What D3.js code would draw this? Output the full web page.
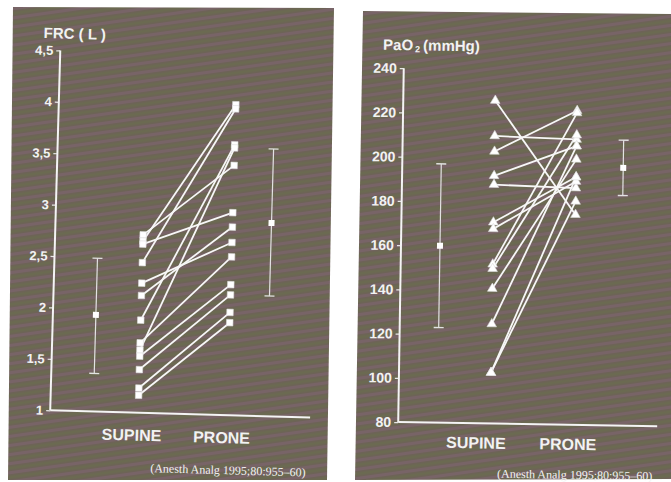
<!DOCTYPE html>
<html>
<head>
<meta charset="utf-8">
<script src="https://cdn.jsdelivr.net/npm/d3@7"></script>
<style>
  body { margin:0; background:#fff; }
  svg { display:block; }
  text { font-family:"Liberation Sans", Arial, sans-serif; fill:#f2f2f2; }
</style>
</head>
<body>
<div id="chart"></div>
<script>
// categories
var groups = ["SUPINE", "PRONE"];

// FRC (L), one line per patient
var frcSupine = [2.73, 2.67, 2.64, 2.46, 2.26, 2.14, 1.90, 1.68, 1.61, 1.55, 1.42, 1.24, 1.17];
var frcProne  = [3.43, 4.02, 2.97, 3.98, 2.68, 2.83, 3.63, 2.54, 3.60, 2.27, 2.17, 2.00, 1.90];
var frcMean = [1.94, 2.88];
var frcLow  = [1.37, 2.17];
var frcHigh = [2.49, 3.60];
var frcTicks = [1, 1.5, 2, 2.5, 3, 3.5, 4, 4.5];

// PaO2 (mmHg), one line per patient
var paoSupine = [226, 210, 203, 192, 188, 171, 168, 152, 150, 141, 125, 103, 103];
var paoProne  = [175, 209, 222, 206, 187, 192, 190, 221, 211, 200, 206, 181, 192];
var paoMean = [160, 196.5];
var paoLow  = [123, 184];
var paoHigh = [197, 209];
var paoTicks = [80, 100, 120, 140, 160, 180, 200, 220, 240];

var source = "(Anesth Analg 1995;80:955\u201360)";

var svg = d3.select("#chart").append("svg")
	.attr("width", 671).attr("height", 482);

// moire-ish print background
var defs = svg.append("defs");
var pat = defs.append("pattern")
	.attr("id", "print")
	.attr("patternUnits", "userSpaceOnUse")
	.attr("width", 40).attr("height", 9)
	.attr("patternTransform", "rotate(-8)");
pat.append("rect").attr("width", 40).attr("height", 9).attr("fill", "#6d6357");
pat.append("rect").attr("y", 0).attr("width", 40).attr("height", 3).attr("fill", "#7a646c").attr("opacity", 0.8);
pat.append("rect").attr("y", 4.5).attr("width", 40).attr("height", 3).attr("fill", "#6a6b50").attr("opacity", 0.8);

svg.append("path")
	.attr("d", "M13,7 L334,8 L327,480 L8,480 Z")
	.attr("fill", "url(#print)");
svg.append("path")
	.attr("d", "M363,11 L671,14 L671,479 L355,480 Z")
	.attr("fill", "url(#print)");

function panel(opt){
	var g = svg.append("g")
		.attr("transform", "rotate(" + opt.angle + "," + opt.cx + "," + opt.cy + ")");

	var y = d3.scaleLinear().domain(opt.domain).range([opt.bottom, opt.top]);
	var x = d3.scalePoint().domain(groups).range(opt.xRange);

	// axes
	var ax = g.append("g")
		.attr("transform", "translate(" + opt.left + ",0)")
		.call(d3.axisLeft(y)
			.tickValues(opt.ticks)
			.tickSize(4)
			.tickPadding(3)
			.tickFormat(opt.fmt));
	ax.select(".domain").remove();
	ax.selectAll(".tick line").attr("stroke", "#e6e6e6").attr("stroke-width", 1.2);
	ax.selectAll(".tick text")
		.attr("fill", "#efefef")
		.attr("font-size", opt.tickSize)
		.attr("font-weight", "bold");

	g.append("line")
		.attr("x1", opt.left).attr("x2", opt.left)
		.attr("y1", y(opt.domain[0])).attr("y2", y(opt.domain[1]))
		.attr("stroke", "#f4f4f4").attr("stroke-width", 2);
	g.append("line")
		.attr("x1", opt.left).attr("x2", opt.right)
		.attr("y1", y(opt.domain[0])).attr("y2", y(opt.domain[0]))
		.attr("stroke", "#f4f4f4").attr("stroke-width", 2);

	// title
	opt.title(g.append("text")
		.attr("x", opt.titleX).attr("y", opt.titleY)
		.attr("font-size", 15).attr("font-weight", "bold"));

	// category labels
	g.selectAll(".cat")
		.data(groups)
		.enter().append("text")
		.attr("class", "cat")
		.attr("x", function(d, i){ return x(d) + opt.labelDx[i]; })
		.attr("y", opt.labelY)
		.attr("text-anchor", "middle")
		.attr("font-size", 16).attr("font-weight", "bold")
		.text(function(d){ return d; });

	// patient lines
	var pairs = opt.supine.map(function(v, i){ return [v, opt.prone[i]]; });
	g.selectAll(".pair")
		.data(pairs)
		.enter().append("line")
		.attr("x1", x("SUPINE")).attr("x2", x("PRONE"))
		.attr("y1", function(d){ return y(d[0]); })
		.attr("y2", function(d){ return y(d[1]); })
		.attr("stroke", "#f7f7f7").attr("stroke-width", 1.8);

	var pts = [];
	pairs.forEach(function(d){
		pts.push({g:"SUPINE", v:d[0]});
		pts.push({g:"PRONE", v:d[1]});
	});
	g.selectAll(".pt")
		.data(pts)
		.enter().append("path")
		.attr("transform", function(d){ return "translate(" + x(d.g) + "," + y(d.v) + ")"; })
		.attr("d", d3.symbol().type(opt.symbol).size(opt.symbolSize))
		.attr("fill", "#ffffff").attr("stroke", "#dcdcdc").attr("stroke-width", 0.6);

	// mean +/- SD
	var summ = groups.map(function(d, i){
		return {g:d, m:opt.mean[i], lo:opt.low[i], hi:opt.high[i], dx:opt.barDx[i]};
	});
	var sg = g.selectAll(".summ")
		.data(summ)
		.enter().append("g")
		.attr("transform", function(d){ return "translate(" + (x(d.g) + d.dx) + ",0)"; });
	sg.append("line")
		.attr("y1", function(d){ return y(d.lo); })
		.attr("y2", function(d){ return y(d.hi); })
		.attr("stroke", "#e2e2e2").attr("stroke-width", 1.2);
	sg.append("line")
		.attr("x1", -5).attr("x2", 5)
		.attr("y1", function(d){ return y(d.lo); })
		.attr("y2", function(d){ return y(d.lo); })
		.attr("stroke", "#e2e2e2").attr("stroke-width", 1.4);
	sg.append("line")
		.attr("x1", -5).attr("x2", 5)
		.attr("y1", function(d){ return y(d.hi); })
		.attr("y2", function(d){ return y(d.hi); })
		.attr("stroke", "#e2e2e2").attr("stroke-width", 1.4);
	sg.append("rect")
		.attr("x", -3).attr("width", 6).attr("height", 6)
		.attr("y", function(d){ return y(d.m) - 3; })
		.attr("fill", "#ffffff");

	// source
	g.append("text")
		.attr("x", opt.srcX).attr("y", opt.srcY)
		.attr("text-anchor", "end")
		.style("font-family", "'Liberation Serif', 'DejaVu Serif', serif")
		.attr("font-size", 12)
		.attr("fill", "#e8e8e8")
		.text(source);
}

panel({
	angle:1.6, cx:150, cy:240,
	domain:[1, 4.5], top:53, bottom:413,
	left:55, right:315, xRange:[143, 232],
	ticks:frcTicks,
	fmt:function(d){ return String(d).replace(".", ","); },
	tickSize:13,
	title:function(t){ t.text("FRC ( L )"); },
	titleX:38, titleY:41,
	labelDx:[-6, -5], labelY:441,
	supine:frcSupine, prone:frcProne,
	symbol:d3.symbolSquare, symbolSize:42,
	mean:frcMean, low:frcLow, high:frcHigh, barDx:[-45, 39],
	srcX:312, srcY:472
});

panel({
	angle:0.9, cx:520, cy:245,
	domain:[80, 240], top:70, bottom:424,
	left:401, right:660, xRange:[493, 575],
	ticks:paoTicks,
	fmt:d3.format("d"),
	tickSize:14,
	title:function(t){
		t.append("tspan").text("PaO");
		t.append("tspan").attr("font-size", 9).attr("dx", 2).attr("dy", 2).text("2");
		t.append("tspan").attr("dx", 3).attr("dy", -2).text("(mmHg)");
	},
	titleX:380, titleY:52,
	labelDx:[-14, -4], labelY:449,
	supine:paoSupine, prone:paoProne,
	symbol:d3.symbolTriangle, symbolSize:40,
	mean:paoMean, low:paoLow, high:paoHigh, barDx:[-53, 47],
	srcX:656, srcY:478
});
</script>
</body>
</html>
